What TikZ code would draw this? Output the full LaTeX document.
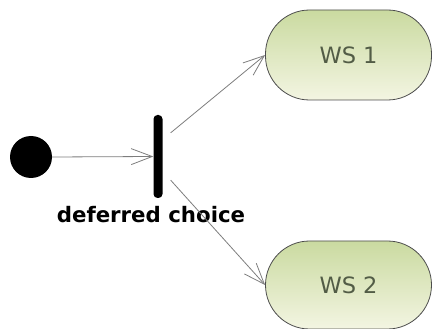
\documentclass[tikz,border=0pt]{standalone}
\usepackage{fontspec}
\setmainfont{DejaVu Sans}
\usetikzlibrary{arrows.meta,calc}

\definecolor{edgegray}{RGB}{125,125,125}
\definecolor{wsdark}{RGB}{202,218,160}
\definecolor{wslight}{RGB}{243,245,226}
\definecolor{wstext}{RGB}{82,92,70}

\tikzset{
  flow/.style={draw=edgegray,line width=0.8pt,-{Straight Barb[length=21pt,width=16pt,line width=0.8pt]}},
  wsnode/.style={draw=black!70,line width=0.8pt,rounded corners=44pt,
    minimum width=166pt,top color=wsdark,bottom color=wslight,
    text=wstext,font=\fontsize{22.5}{26}\selectfont},
}

\begin{document}
\begin{tikzpicture}[x=1pt,y=-1pt]
\useasboundingbox (0,0) rectangle (432,329);
% start, choice bar and the two services
\node[circle,fill=black,minimum size=42pt,inner sep=0pt] (init) at (31,157) {};
\node[rectangle,fill=black,rounded corners=4pt,minimum width=9pt,minimum height=83pt,inner sep=0pt] (fork) at (158,156.5) {};
\node[wsnode,minimum height=90pt] (ws1) at (348.5,55) {WS 1};
\node[wsnode,minimum height=88pt] (ws2) at (348.5,285) {WS 2};
\node[font=\bfseries\fontsize{21.3}{24}\selectfont] (lbl) at (151,214.5) {deferred choice};
% connectors
\coordinate (up) at ($(fork.north east)+(8,18)$);
\coordinate (dn) at ($(fork.south east)+(8,-18)$);
\draw[flow] (init.east) -- (fork.west);
\draw[flow] (up) -- (ws1.west);
\draw[flow] (dn) -- (ws2.west);
\end{tikzpicture}
\end{document}
